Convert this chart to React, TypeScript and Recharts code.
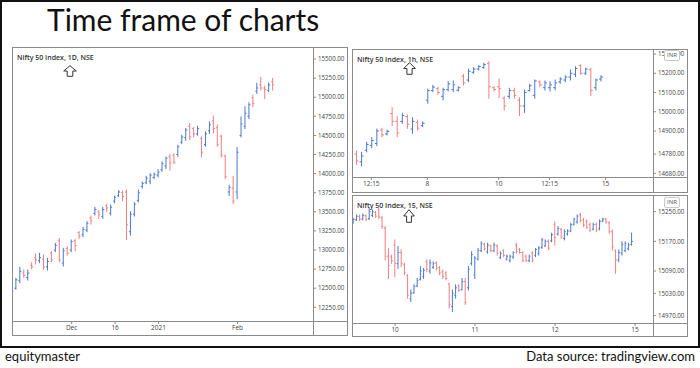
import React from 'react';
import { ComposedChart, Bar, XAxis, YAxis } from 'recharts';

const BLUE = '#4a78cc';
const RED = '#f07f7f';

// ---- Daily (1D) ----
const dOpen = [12390,12500,12600,12700,12640,12800,12900,12860,12880,12780,12960,13000,13120,12830,13020,13000,13120,13230,13200,13260,13420,13480,13500,13440,13580,13480,13640,13710,13750,13760,13240,13470,13650,13830,13880,13900,13950,13980,14050,14100,14220,14240,14250,14410,14470,14620,14590,14520,14460,14380,14560,14690,14600,14490,14230,13760,13810,13760,14500,14620,14750,14990,15080,15160,15120,15090,15200];
const dHigh = [12477,12629,12773,12738,12738,12834,12948,12956,12935,12891,12978,13087,13152,13022,13044,13131,13139,13240,13296,13371,13445,13558,13514,13558,13602,13589,13706,13776,13772,13785,13501,13619,13785,13890,13964,13999,14008,14052,14152,14218,14253,14262,14371,14502,14590,14656,14603,14620,14481,14546,14677,14752,14634,14502,14240,13846,13964,14341,14743,14874,14927,15028,15181,15259,15146,15189,15246];
const dLow = [12368,12485,12573,12642,12607,12756,12817,12834,12747,12738,12847,12978,12847,12791,12935,12978,12991,13152,13174,13240,13340,13458,13414,13414,13501,13458,13619,13698,13649,13139,13196,13445,13628,13811,13868,13868,13934,13956,14030,14065,14043,14131,14227,14393,14437,14446,14481,14502,14218,14358,14524,14533,14358,14218,13934,13715,13606,13671,14481,14590,14721,14874,15049,15093,14984,15071,15093];
const dClose = [12460,12610,12720,12670,12700,12780,12870,12900,12780,12850,12870,13060,12870,12990,12960,13110,13060,13180,13270,13350,13380,13530,13460,13530,13550,13560,13690,13760,13700,13330,13470,13600,13750,13870,13940,13980,13990,14020,14130,14200,14140,14150,14350,14480,14570,14480,14520,14590,14280,14520,14640,14590,14380,14240,13960,13820,13640,14280,14650,14790,14900,14920,15120,15120,15100,15160,15160];
const dTickIdx = [15, 26, 37, 57];
const dTickLabels = ['Dec', '16', '2021', 'Feb'];
const dPriceTicks = [12250,12500,12750,13000,13250,13500,13750,14000,14250,14500,14750,15000,15250,15500];

// ---- Hourly (1h) ----
const hOpen = [14780,14740,14800,14825,14835,14905,14885,14990,14950,14950,14975,14910,14945,14928,15060,15110,15120,15080,15115,15115,15112,15185,15165,15205,15222,15230,15250,15125,15130,15070,15080,15110,15060,15030,15110,15085,15155,15125,15125,15125,15155,15165,15180,15195,15240,15200,15220,15125,15170];
const hHigh = [14796,14789,14841,14865,14910,14914,14905,15021,14974,14992,14983,14969,14957,14948,15118,15136,15127,15122,15156,15160,15130,15194,15222,15229,15240,15252,15260,15130,15170,15078,15122,15122,15073,15113,15143,15165,15160,15160,15156,15165,15177,15187,15217,15234,15243,15226,15226,15170,15187];
const hLow = [14727,14720,14792,14813,14824,14870,14879,14928,14870,14940,14914,14888,14905,14922,15044,15104,15090,15061,15108,15104,15108,15139,15156,15200,15217,15226,15070,15108,15073,15009,15070,15070,14980,14997,15108,15070,15130,15113,15108,15113,15148,15156,15165,15182,15194,15194,15084,15113,15160];
const hClose = [14745,14770,14830,14850,14900,14880,14898,14950,14890,14980,14935,14950,14915,14940,15110,15128,15100,15115,15145,15140,15125,15150,15210,15222,15235,15245,15130,15115,15120,15030,15110,15085,15030,15100,15135,15160,15140,15150,15140,15150,15170,15180,15200,15225,15200,15222,15110,15165,15180];
const hTickIdx = [3, 14, 28, 38, 49];
const hTickLabels = ['12:15', '8', '10', '12:15', '15'];
const hPriceTicks = [14680, 14780, 14900, 15000, 15100, 15200, 15300];

// ---- 15 minute ----
const qOpen = [15221,15228,15237,15230,15239,15231,15240,15248,15255,15234,15205,15130,15128,15160,15110,15140,15108,15078,15015,15032,15050,15068,15075,15115,15090,15100,15112,15099,15088,15085,15055,14995,15025,15050,15040,15062,15045,15110,15080,15122,15145,15162,15142,15158,15145,15158,15126,15145,15122,15118,15128,15160,15149,15140,15130,15118,15138,15132,15138,15154,15158,15170,15172,15215,15190,15202,15178,15190,15198,15216,15222,15242,15228,15224,15215,15203,15216,15204,15225,15230,15220,15196,15145,15120,15138,15145,15150,15162];
const qHigh = [15232,15241,15241,15244,15241,15259,15255,15250,15259,15237,15210,15151,15133,15174,15156,15147,15111,15080,15039,15053,15070,15102,15097,15120,15120,15115,15115,15102,15093,15088,15057,15039,15053,15053,15070,15070,15102,15142,15129,15151,15169,15165,15165,15160,15165,15160,15142,15147,15133,15133,15142,15165,15151,15142,15133,15133,15142,15151,15156,15178,15174,15174,15192,15223,15210,15205,15201,15201,15219,15232,15241,15246,15232,15228,15219,15219,15219,15228,15232,15232,15223,15200,15147,15147,15169,15169,15165,15192];
const qLow = [15219,15226,15226,15228,15226,15229,15237,15235,15232,15205,15120,15070,15111,15075,15097,15102,15080,15017,15008,15030,15048,15066,15070,15088,15084,15097,15093,15080,15070,15066,14990,14981,15017,15035,15039,15000,15039,15106,15070,15120,15142,15147,15138,15142,15142,15133,15124,15129,15120,15115,15124,15138,15138,15115,15115,15115,15115,15129,15133,15151,15156,15147,15169,15160,15187,15178,15174,15187,15196,15214,15219,15223,15210,15205,15196,15201,15196,15201,15223,15219,15192,15147,15084,15115,15133,15142,15147,15160];
const qClose = [15229,15238,15230,15240,15229,15250,15250,15238,15236,15210,15130,15105,15118,15110,15140,15110,15085,15025,15030,15048,15065,15090,15092,15095,15112,15110,15098,15085,15075,15070,15000,15030,15045,15038,15062,15005,15095,15135,15125,15145,15165,15150,15160,15145,15160,15138,15138,15132,15130,15130,15140,15142,15140,15118,15118,15130,15120,15148,15152,15174,15170,15152,15188,15180,15205,15182,15196,15198,15215,15230,15238,15226,15214,15208,15200,15215,15200,15224,15230,15222,15196,15155,15120,15140,15162,15165,15160,15170];
const qTickIdx = [13, 38, 63, 88];
const qTickLabels = ['10', '11', '12', '15'];
const qPriceTicks = [14970, 15030, 15090, 15170, 15250];

function buildRows(o: number[], h: number[], l: number[], c: number[]) {
  return o.map((v, i) => ({ i, o: v, h: h[i], l: l[i], c: c[i], range: [l[i], h[i]] }));
}

const OhlcShape = (props: any) => {
  const { x, y, width, height, payload } = props;
  if (!payload || y == null) return null;
  const top = Math.min(y, y + height);
  const bot = Math.max(y, y + height);
  const span = payload.h - payload.l;
  const k = span > 0 ? (bot - top) / span : 0;
  const oy = top + (payload.h - payload.o) * k;
  const cy = top + (payload.h - payload.c) * k;
  const cx = x + width / 2;
  const color = payload.c >= payload.o ? BLUE : RED;
  return (
    <g stroke={color} strokeWidth={1}>
      <line x1={cx} y1={top - 0.5} x2={cx} y2={bot + 0.5} />
      <line x1={x} y1={oy} x2={cx} y2={oy} />
      <line x1={cx} y1={cy} x2={x + width} y2={cy} />
    </g>
  );
};

const Arrow = ({ left, top, w, h }: any) => (
  <svg style={{ position: 'absolute', left, top }} width={w} height={h}>
    <path
      d={`M${w / 2},0.7 L${w - 0.7},${h * 0.5} L${w * 0.7},${h * 0.5} L${w * 0.7},${h - 0.7} L${w * 0.3},${h - 0.7} L${w * 0.3},${h * 0.5} L0.7,${h * 0.5} Z`}
      fill="#fff"
      stroke="#333"
      strokeWidth={1}
    />
  </svg>
);

function Panel(p: any) {
  const { left, top, width, height, yAxisW, xAxisH, data, xDomain, yDomain, yTicks, xTicks, xLabels, barSize, title, arrow, inr } = p;
  const plotW = width - yAxisW;
  const plotH = height - xAxisH;
  const lineColor = '#8a8a8a';
  return (
    <>
      <div style={{ position: 'absolute', left, top }}>
        <ComposedChart width={width} height={height} data={data} margin={{ top: 0, right: 0, bottom: 0, left: 0 }}>
          <XAxis
            dataKey="i"
            type="number"
            domain={xDomain}
            allowDataOverflow
            ticks={xTicks}
            interval={0}
            tickFormatter={(v: number) => xLabels[xTicks.indexOf(v)] ?? ''}
            height={xAxisH}
            axisLine={false}
            tickLine={{ stroke: lineColor }}
            tickSize={3}
            tickMargin={1}
            tick={{ fontSize: 6.5, fill: '#444' }}
          />
          <YAxis
            orientation="right"
            type="number"
            domain={yDomain}
            allowDataOverflow
            ticks={yTicks}
            interval={0}
            width={yAxisW}
            tickFormatter={(v: number) => v.toFixed(2)}
            axisLine={false}
            tickLine={{ stroke: lineColor }}
            tickSize={3}
            tickMargin={2}
            tick={{ fontSize: 6.2, fill: '#444' }}
          />
          <Bar dataKey="range" barSize={barSize} shape={OhlcShape} isAnimationActive={false} />
        </ComposedChart>
      </div>
      <div style={{ position: 'absolute', left, top, width, height, border: `1px solid ${lineColor}`, boxSizing: 'border-box', pointerEvents: 'none' }} />
      <div style={{ position: 'absolute', left: left + plotW, top, width: 1, height, background: lineColor }} />
      <div style={{ position: 'absolute', left, top: top + plotH, width, height: 1, background: lineColor }} />
      <div style={{ position: 'absolute', left: left + 5, top: top + 7, fontSize: 7, fontWeight: 600, color: '#333', lineHeight: '8px', whiteSpace: 'nowrap' }}>{title}</div>
      <Arrow left={arrow[0]} top={arrow[1]} w={arrow[2]} h={arrow[3]} />
      {inr && (
        <div style={{ position: 'absolute', left: inr[0], top: inr[1], fontSize: 6, lineHeight: '9px', padding: '0 2px', color: '#555', background: '#fff', border: '1px solid #c8c8c8', borderRadius: 2 }}>INR</div>
      )}
    </>
  );
}

export default function App() {
  const dRows = buildRows(dOpen, dHigh, dLow, dClose);
  const hRows = buildRows(hOpen, hHigh, hLow, hClose);
  const qRows = buildRows(qOpen, qHigh, qLow, qClose);
  return (
    <div style={{ position: 'absolute', left: 0, top: 0, width: 700, height: 368, background: '#fff', fontFamily: "'Open Sans', sans-serif", overflow: 'hidden' }}>
      <div style={{ position: 'absolute', left: 0, top: 0, width: 700, height: 348, border: '2px solid #111', boxSizing: 'border-box' }} />
      <div style={{ position: 'absolute', left: 47, top: 4, fontFamily: 'Lato, sans-serif', fontSize: 30, lineHeight: '30px', color: '#111', whiteSpace: 'nowrap' }}>Time frame of charts</div>
      <Panel
        left={12} top={47} width={336} height={289} yAxisW={35} xAxisH={15}
        data={dRows} xDomain={[-0.1, 76.1]} yDomain={[12071, 15657]}
        yTicks={dPriceTicks} xTicks={dTickIdx} xLabels={dTickLabels} barSize={3}
        title="Nifty 50 Index, 1D, NSE" arrow={[63, 65, 14, 12]}
      />
      <Panel
        left={352} top={49} width={336} height={144} yAxisW={35} xAxisH={16}
        data={hRows} xDomain={[-0.79, 58.3]} yDomain={[14661, 15326]}
        yTicks={hPriceTicks} xTicks={hTickIdx} xLabels={hTickLabels} barSize={4}
        title="Nifty 50 Index, 1h, NSE" arrow={[403, 62, 13, 13]} inr={[664, 50]}
      />
      <Panel
        left={352} top={195} width={336} height={142} yAxisW={35} xAxisH={14}
        data={qRows} xDomain={[-0.47, 93.6]} yDomain={[14950, 15295]}
        yTicks={qPriceTicks} xTicks={qTickIdx} xLabels={qTickLabels} barSize={2.6}
        title="Nifty 50 Index, 15, NSE" arrow={[403, 209, 12, 14]} inr={[664, 197]}
      />
      <div style={{ position: 'absolute', left: 5, top: 350, fontFamily: 'Lato, sans-serif', fontSize: 13, lineHeight: '13px', color: '#111' }}>equitymaster</div>
      <div style={{ position: 'absolute', right: 5, top: 350, fontFamily: 'Lato, sans-serif', fontSize: 13, lineHeight: '13px', color: '#111' }}>Data source: tradingview.com</div>
    </div>
  );
}
